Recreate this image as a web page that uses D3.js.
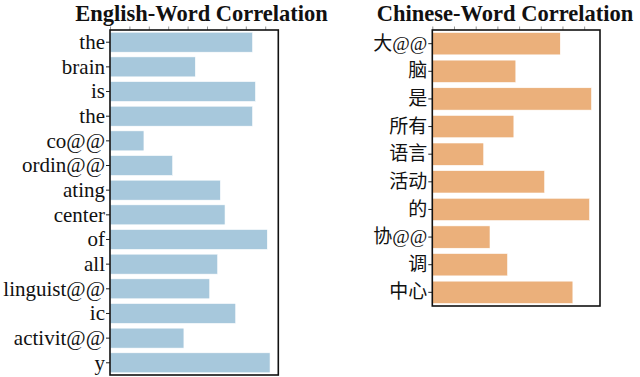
<!DOCTYPE html>
<html>
<head>
<meta charset="utf-8">
<script src="https://cdn.jsdelivr.net/npm/d3@7"></script>
<style>
  body { margin: 0; background: #fff; }
  svg { display: block; }
</style>
</head>
<body>
<svg id="chart"></svg>
<script>
// english tokens and their correlation
var enWords = ["the","brain","is","the","co@@","ordin@@","ating","center","of","all","linguist@@","ic","activit@@","y"]
var enValues = [0.735,0.44,0.75,0.735,0.175,0.323,0.569,0.593,0.811,0.555,0.514,0.648,0.381,0.825]

// chinese tokens and their correlation
var zhWords = ["大@@","脑","是","所有","语言","活动","的","协@@","调","中心"]
var zhValues = [0.59,0.385,0.734,0.376,0.237,0.518,0.725,0.266,0.347,0.648]

var enTicks = [0,0.1,0.2,0.3,0.4,0.5,0.6,0.7,0.8]
var zhTicks = [0,0.1,0.2,0.3,0.4,0.5,0.6,0.7]

var svgWidth = 640, svgHeight = 377

var svg = d3.select('#chart')
    .attr('width', svgWidth)
    .attr('height', svgHeight)

function panel(opt){
    var g = svg.append('g')

    var xScale = d3.scaleLinear()
        .domain([0, opt.xMax])
        .range([opt.left, opt.right])

    var yScale = d3.scaleBand()
        .domain(d3.range(opt.words.length))
        .range([opt.top, opt.bottom])
        .paddingInner(0.19)
        .paddingOuter(0.09)

    g.selectAll('rect.bar')
        .data(opt.values)
        .enter()
        .append('rect')
        .attr('class', 'bar')
        .attr('x', xScale(0))
        .attr('y', function(d, i){ return yScale(i); })
        .attr('width', function(d){ return xScale(d) - xScale(0); })
        .attr('height', yScale.bandwidth())
        .attr('fill', opt.color)
        .attr('stroke', '#fff')
        .attr('stroke-width', 0.6)

    // top ticks, no labels
    var top = g.append('g')
        .attr('transform', 'translate(0,' + opt.top + ')')
        .call(d3.axisTop(xScale).tickValues(opt.ticks).tickSize(3.5).tickFormat(''))
    top.select('.domain').remove()
    top.selectAll('line').attr('stroke', '#777').attr('stroke-width', 0.8)

    // left axis with the tokens
    var left = g.append('g')
        .attr('transform', 'translate(' + opt.left + ',0)')
        .call(d3.axisLeft(yScale).tickSize(4).tickPadding(1)
            .tickFormat(function(i){ return opt.words[i]; }))
    left.select('.domain').remove()
    left.selectAll('line').attr('stroke', '#222').attr('stroke-width', 1)
    left.selectAll('text')
        .attr('font-family', opt.font)
        .attr('font-size', opt.fontSize)
        .attr('fill', '#111')

    // frame
    g.append('rect')
        .attr('x', opt.left)
        .attr('y', opt.top)
        .attr('width', opt.right - opt.left)
        .attr('height', opt.bottom - opt.top)
        .attr('fill', 'none')
        .attr('stroke', '#111')
        .attr('stroke-width', 1.6)

    g.append('text')
        .attr('x', opt.titleX)
        .attr('y', 20.5)
        .attr('text-anchor', 'middle')
        .attr('font-family', '"Liberation Serif", "Times New Roman", serif')
        .attr('font-weight', 'bold')
        .attr('font-size', '22.5px')
        .attr('fill', '#111')
        .text(opt.title)
}

panel({
    words: enWords, values: enValues, ticks: enTicks, xMax: 0.8675,
    left: 110, right: 278.3, top: 30, bottom: 375,
    color: '#a7c8dc', title: 'English-Word Correlation', titleX: 201.5,
    font: '"Liberation Serif", "Times New Roman", serif', fontSize: '21px'
})

panel({
    words: zhWords, values: zhValues, ticks: zhTicks, xMax: 0.773,
    left: 432.3, right: 600, top: 30, bottom: 306,
    color: '#ebb07b', title: 'Chinese-Word Correlation', titleX: 505,
    font: '"Liberation Serif", "Noto Sans CJK SC", serif', fontSize: '19px'
})
</script>
</body>
</html>
